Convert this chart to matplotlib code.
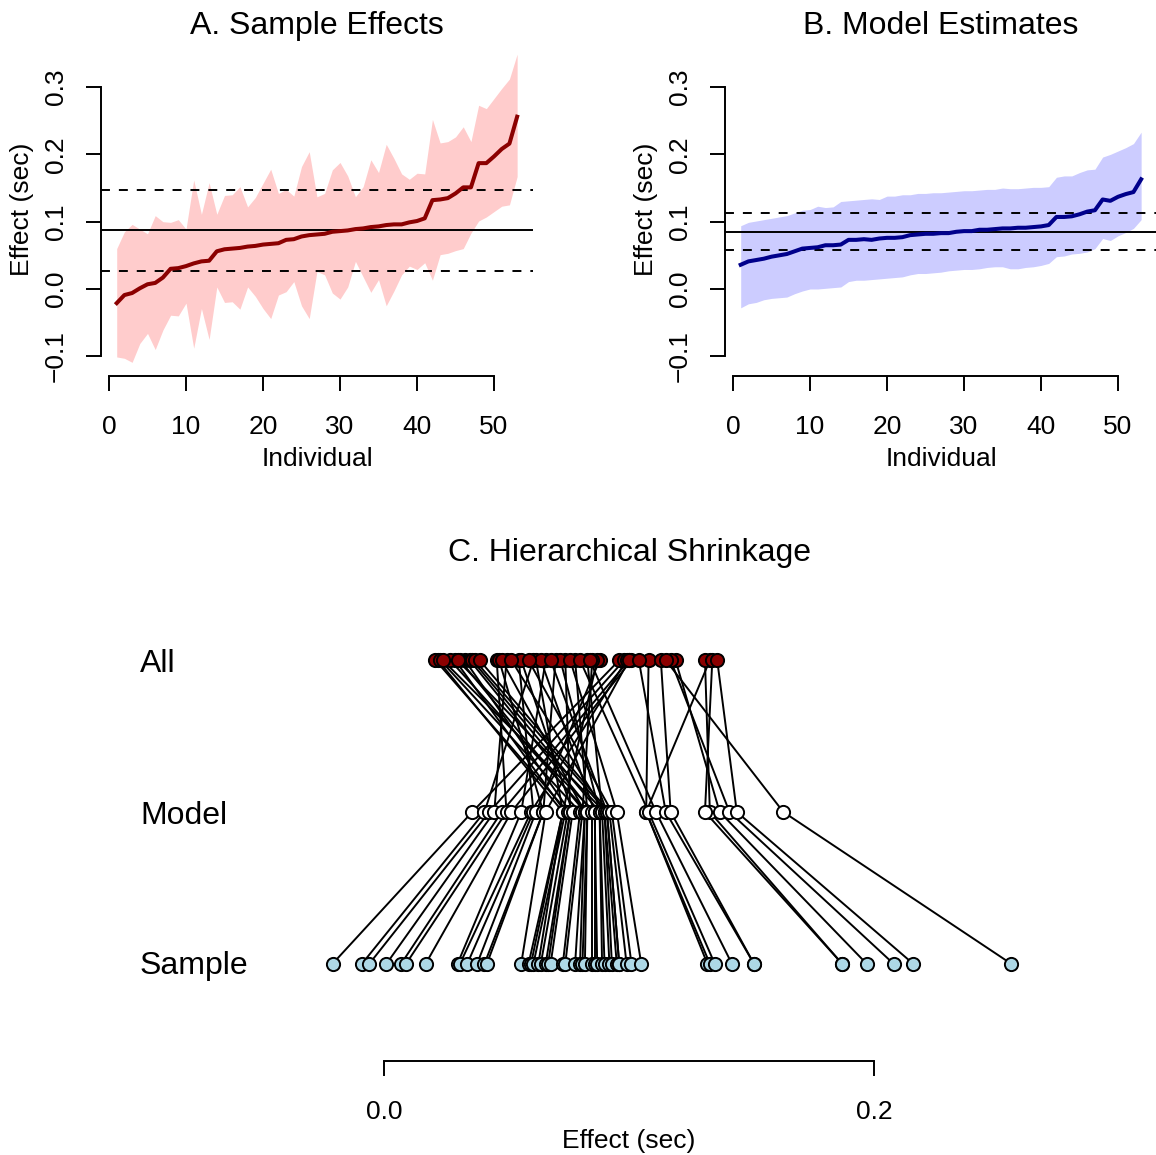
import numpy as np
import matplotlib.pyplot as plt

plt.rcParams['font.family'] = ['Liberation Sans', 'DejaVu Sans']

individual = np.arange(1, 54)

# sample effects (sec), sorted, with interval bounds
sample_eff = [-0.021, -0.009, -0.006, 0.001, 0.007, 0.009, 0.017, 0.030, 0.031, 0.034,
              0.038, 0.041, 0.042, 0.056, 0.059, 0.060, 0.061, 0.063, 0.064, 0.066,
              0.067, 0.068, 0.073, 0.074, 0.078, 0.080, 0.081, 0.082, 0.085, 0.086,
              0.087, 0.089, 0.090, 0.092, 0.093, 0.095, 0.096, 0.096, 0.099, 0.101,
              0.105, 0.132, 0.133, 0.135, 0.142, 0.151, 0.151, 0.187, 0.187, 0.197,
              0.208, 0.216, 0.256]
sample_hi = [0.060, 0.085, 0.096, 0.089, 0.082, 0.109, 0.100, 0.099, 0.103, 0.089,
             0.162, 0.111, 0.158, 0.111, 0.139, 0.140, 0.152, 0.122, 0.136, 0.157,
             0.178, 0.142, 0.148, 0.138, 0.182, 0.204, 0.137, 0.142, 0.177, 0.188,
             0.168, 0.137, 0.152, 0.192, 0.173, 0.215, 0.194, 0.171, 0.163, 0.172,
             0.171, 0.252, 0.217, 0.219, 0.226, 0.241, 0.219, 0.273, 0.268, 0.283,
             0.298, 0.312, 0.349]
sample_lo = [-0.101, -0.103, -0.109, -0.081, -0.066, -0.090, -0.061, -0.039, -0.040, -0.021,
             -0.088, -0.029, -0.075, 0.003, -0.020, -0.019, -0.030, 0.003, -0.011, -0.029,
             -0.044, -0.009, -0.004, 0.011, -0.025, -0.044, 0.026, 0.021, -0.006, -0.015,
             0.003, 0.041, 0.018, -0.005, 0.014, -0.025, -0.003, 0.021, 0.034, 0.029,
             0.039, 0.013, 0.051, 0.053, 0.057, 0.060, 0.083, 0.101, 0.107, 0.115,
             0.123, 0.125, 0.167]
sample_ref = [0.027, 0.087, 0.147]   # mean -/+ 1 sd

# model estimates (sec), sorted, with interval bounds
model_eff = [0.036, 0.041, 0.043, 0.045, 0.048, 0.050, 0.052, 0.056, 0.060, 0.061,
             0.062, 0.065, 0.065, 0.066, 0.073, 0.073, 0.074, 0.073, 0.075, 0.076,
             0.076, 0.077, 0.080, 0.081, 0.082, 0.082, 0.083, 0.083, 0.085, 0.086,
             0.086, 0.088, 0.088, 0.089, 0.090, 0.090, 0.091, 0.091, 0.092, 0.093,
             0.095, 0.107, 0.107, 0.108, 0.111, 0.115, 0.117, 0.133, 0.131, 0.137,
             0.141, 0.144, 0.163]
model_hi = [0.094, 0.099, 0.101, 0.103, 0.105, 0.107, 0.109, 0.113, 0.117, 0.118,
            0.123, 0.121, 0.122, 0.130, 0.131, 0.132, 0.133, 0.134, 0.133, 0.138,
            0.138, 0.140, 0.140, 0.142, 0.142, 0.143, 0.143, 0.144, 0.145, 0.146,
            0.146, 0.147, 0.148, 0.148, 0.150, 0.149, 0.149, 0.150, 0.151, 0.151,
            0.152, 0.166, 0.168, 0.168, 0.173, 0.177, 0.178, 0.196, 0.200, 0.205,
            0.210, 0.216, 0.233]
model_lo = [-0.028, -0.022, -0.020, -0.016, -0.014, -0.013, -0.012, -0.007, -0.003, 0.000,
            0.000, 0.001, 0.002, 0.003, 0.011, 0.013, 0.013, 0.014, 0.015, 0.016,
            0.017, 0.018, 0.021, 0.023, 0.023, 0.024, 0.025, 0.027, 0.028, 0.029,
            0.029, 0.030, 0.032, 0.033, 0.033, 0.030, 0.030, 0.032, 0.033, 0.035,
            0.038, 0.048, 0.049, 0.052, 0.053, 0.055, 0.060, 0.075, 0.072, 0.079,
            0.084, 0.090, 0.103]
model_ref = [0.058, 0.085, 0.113]

# estimates from the pooled fit, in the same order as model_eff
all_eff = [0.096, 0.061, 0.098, 0.050, 0.100, 0.046, 0.101, 0.066, 0.099, 0.055,
           0.088, 0.070, 0.047, 0.100, 0.022, 0.062, 0.029, 0.087, 0.021, 0.074,
           0.033, 0.056, 0.023, 0.085, 0.031, 0.048, 0.027, 0.078, 0.035, 0.064,
           0.024, 0.072, 0.036, 0.083, 0.030, 0.052, 0.037, 0.068, 0.039, 0.059,
           0.076, 0.108, 0.133, 0.080, 0.084, 0.104, 0.113, 0.131, 0.134, 0.119,
           0.117, 0.136, 0.115]

y_ticks = [-0.1, 0.0, 0.1, 0.2, 0.3]
y_ticklabels = ['\u22120.1', '0.0', '0.1', '0.2', '0.3']
x_ticks = [0, 10, 20, 30, 40, 50]
c_ticks = [0.0, 0.2]
c_ticklabels = ['0.0', '0.2']
rows = {'All': 3, 'Model': 2, 'Sample': 1}

W, H = 1156, 1155
fig = plt.figure(figsize=(W / 100, H / 100), dpi=100)


def px_axes(x0, y0, x1, y1):
    return fig.add_axes([x0 / W, 1 - y1 / H, (x1 - x0) / W, (y1 - y0) / H])


def px_text(x, y, s, size, **kw):
    fig.text(x / W, 1 - y / H, s, fontsize=size, **kw)


def style_axis(ax):
    for s in ('top', 'right'):
        ax.spines[s].set_visible(False)
    for s in ('left', 'bottom'):
        ax.spines[s].set_linewidth(1.4)
    ax.tick_params(direction='out', length=10.8, width=1.4, pad=13, labelsize=19)
    ax.tick_params(axis='x', pad=17)


def effect_panel(x0, est, lo, hi, ref, line_col, fill_col, title):
    ax = px_axes(x0, 42, x0 + 432, 376)
    ax.fill_between(individual, lo, hi, color=fill_col, lw=0)
    ax.axhline(ref[1], color='black', lw=1.4)
    for v in (ref[0], ref[2]):
        ax.axhline(v, color='black', lw=1.4, ls=(0, (4.6, 4.6)))
    ax.plot(individual, est, color=line_col, lw=2.9)
    ax.set_xlim(-1.04, 55.06)
    ax.set_ylim(-0.1293, 0.367)
    style_axis(ax)
    ax.spines['left'].set_bounds(-0.1, 0.3)
    ax.spines['bottom'].set_bounds(0, 50)
    ax.set_xticks(x_ticks)
    ax.set_yticks(y_ticks)
    ax.set_yticklabels(y_ticklabels, rotation=90, va='center')
    px_text(x0 + 216, 34, title, 23, ha='center', va='baseline')
    px_text(x0 + 216, 466, 'Individual', 19, ha='center', va='baseline')
    px_text(x0 - 79, 209, 'Effect (sec)', 19, ha='center', va='center', rotation=90)
    return ax


effect_panel(101, sample_eff, sample_lo, sample_hi, sample_ref,
             '#8B0000', '#FFCCCC', 'A. Sample Effects')
effect_panel(725, model_eff, model_lo, model_hi, model_ref,
             '#00008B', '#CCCCFF', 'B. Model Estimates')

# shrinkage panel: pooled -> model -> sample for each individual
axc = px_axes(100, 560, 1156, 1061)
for a, m, s in zip(all_eff, model_eff, sample_eff):
    axc.plot([a, m], [rows['All'], rows['Model']], color='black', lw=1.4, zorder=1)
    axc.plot([m, s], [rows['Model'], rows['Sample']], color='black', lw=1.4, zorder=1)
for vals, row, col in ((all_eff, 'All', '#8B0000'),
                       (model_eff, 'Model', 'white'),
                       (sample_eff, 'Sample', '#ADD8E6')):
    axc.plot(vals, [rows[row]] * len(vals), ls='none', marker='o', ms=9.5,
             mfc=col, mec='black', mew=1.4, zorder=3)
axc.set_xlim(-0.11592, 0.31510)
axc.set_ylim(0.3597, 3.660)
style_axis(axc)
axc.spines['left'].set_visible(False)
axc.spines['bottom'].set_bounds(0.0, 0.2)
axc.set_yticks([])
axc.set_xticks(c_ticks)
axc.set_xticklabels(c_ticklabels)

px_text(629, 561, 'C. Hierarchical Shrinkage', 23, ha='center', va='baseline')
px_text(629, 1148, 'Effect (sec)', 19, ha='center', va='baseline')
for name, ypx in (('All', 672), ('Model', 824), ('Sample', 974)):
    px_text(140, ypx, name, 23, ha='left', va='baseline')

fig.savefig('out.png', dpi=100)
